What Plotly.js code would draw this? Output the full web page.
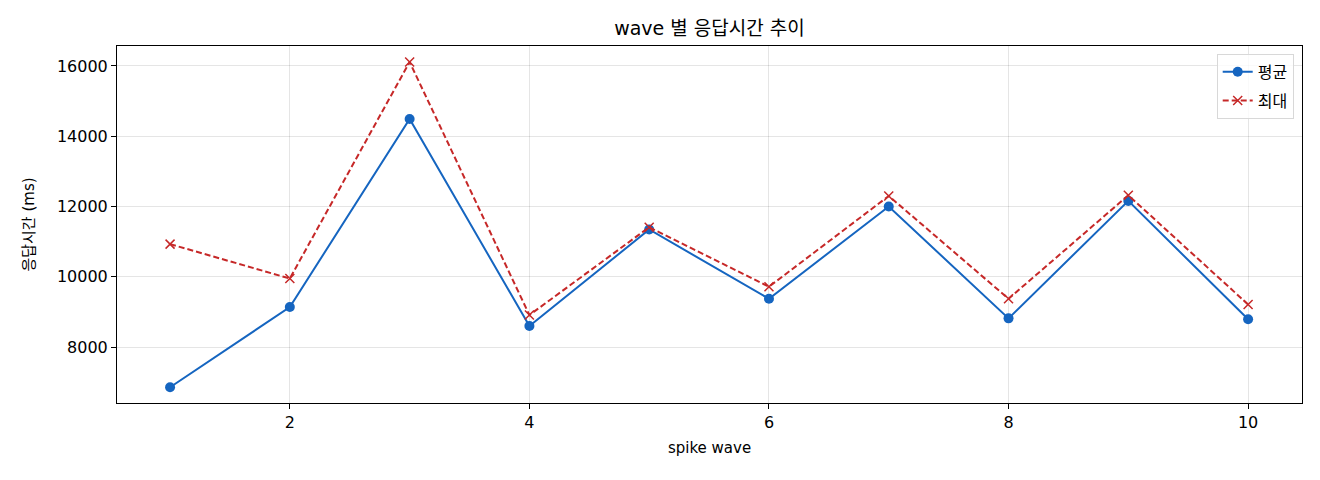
<!DOCTYPE html>
<html>
<head>
<meta charset="utf-8">
<script src="https://cdn.plot.ly/plotly-3.0.1.min.js"></script>
<style>
  html, body { margin: 0; padding: 0; background: #fff; }
  #chart { width: 1320px; height: 480px; }
</style>
</head>
<body>
<div id="chart"></div>
<script>
// spike wave 번호
const waves = [1, 2, 3, 4, 5, 6, 7, 8, 9, 10];
// 평균 응답시간 (ms)
const avgMs = [6855, 9138, 14492, 8597, 11346, 9374, 12000, 8816, 12160, 8790];
// 최대 응답시간 (ms)
const maxMs = [10930, 9950, 16114, 8910, 11411, 9716, 12300, 9374, 12320, 9212];

// 라틴 글자는 DejaVu (폭 넓은 글꼴), 한글은 Noto CJK 로 대체
const FONT = 'DejaVu Sans, Noto Sans CJK KR, sans-serif';

const avgTrace = {
    x: waves,
    y: avgMs,
    name: '평균',
    legendgroup: 'avg',
    type: 'scatter',
    mode: 'lines+markers',
    line: { color: '#1565C0', width: 2 },
    marker: { symbol: 'circle', size: 10, color: '#1565C0' }
};

const maxTrace = {
    x: waves,
    y: maxMs,
    name: '최대',
    legendgroup: 'max',
    type: 'scatter',
    mode: 'lines+markers',
    line: { color: '#C62828', width: 2, dash: '6px,3px' },
    marker: { symbol: 'x-thin-open', size: 9, color: '#C62828', line: { color: '#C62828', width: 1.5 } }
};

// matplotlib 스타일 축 설정
const axisStyle = {
    showline: true,
    linecolor: '#000',
    linewidth: 1,
    mirror: true,
    ticks: 'outside',
    ticklen: 5,
    tickwidth: 1,
    tickcolor: '#000',
    showgrid: true,
    gridcolor: 'rgba(0,0,0,0.1)',
    gridwidth: 1,
    zeroline: false,
    tickfont: { family: FONT, size: 16, color: '#000' }
};

const layout = {
    width: 1320,
    height: 480,
    margin: { l: 117, r: 18, t: 46, b: 77 },
    paper_bgcolor: '#fff',
    plot_bgcolor: '#fff',
    font: { family: FONT, color: '#000' },
    title: {
        text: 'wave 별 응답시간 추이',
        font: { family: FONT, size: 19, color: '#000' },
        xref: 'paper',
        x: 0.5,
        xanchor: 'center',
        y: 0.94,
        yanchor: 'middle'
    },
    xaxis: Object.assign({}, axisStyle, {
        range: [0.557, 10.45],
        tickvals: [2, 4, 6, 8, 10],
        title: { text: 'spike wave', font: { family: FONT, size: 15, color: '#000' }, standoff: 11 }
    }),
    yaxis: Object.assign({}, axisStyle, {
        range: [6407, 16569],
        tickvals: [8000, 10000, 12000, 14000, 16000],
        tickformat: 'd',
        title: { text: '응답시간 (ms)', font: { family: FONT, size: 15, color: '#000' }, standoff: 18 }
    }),
    legend: {
        x: 0.993,
        y: 0.978,
        xanchor: 'right',
        yanchor: 'top',
        bgcolor: 'rgba(255,255,255,0.8)',
        bordercolor: '#d8d8d8',
        borderwidth: 1,
        font: { family: FONT, size: 16, color: '#000' },
        tracegroupgap: 5,
        itemwidth: 30
    },
    showlegend: true
};

Plotly.newPlot('chart', [avgTrace, maxTrace], layout, { displayModeBar: false, staticPlot: true });
</script>
</body>
</html>
